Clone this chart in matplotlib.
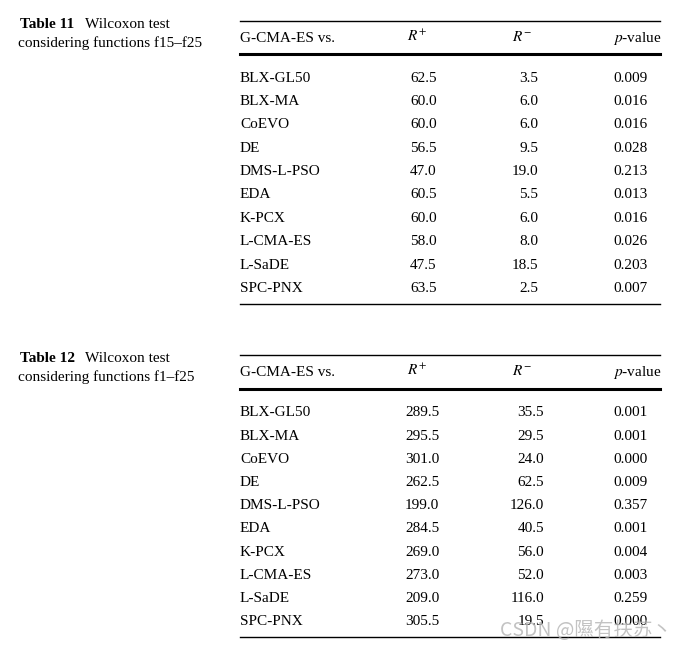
import matplotlib
matplotlib.use("Agg")
from matplotlib import pyplot as plt
from matplotlib.lines import Line2D

W, H = 682, 649

algorithms = ["BLX-GL50", "BLX-MA", "CoEVO", "DE", "DMS-L-PSO", "EDA",
              "K-PCX", "L-CMA-ES", "L-SaDE", "SPC-PNX"]

t11_rplus = ["62.5", "60.0", "60.0", "56.5", "47.0", "60.5", "60.0", "58.0", "47.5", "63.5"]
t11_rminus = ["3.5", "6.0", "6.0", "9.5", "19.0", "5.5", "6.0", "8.0", "18.5", "2.5"]
t11_pvalue = ["0.009", "0.016", "0.016", "0.028", "0.213", "0.013", "0.016", "0.026", "0.203", "0.007"]

t12_rplus = ["289.5", "295.5", "301.0", "262.5", "199.0", "284.5", "269.0", "273.0", "209.0", "305.5"]
t12_rminus = ["35.5", "29.5", "24.0", "62.5", "126.0", "40.5", "56.0", "52.0", "116.0", "19.5"]
t12_pvalue = ["0.001", "0.001", "0.000", "0.009", "0.357", "0.001", "0.004", "0.003", "0.259", "0.000"]

plt.rcParams['font.family'] = ['Liberation Serif', 'DejaVu Serif']
plt.rcParams['mathtext.fontset'] = 'stix'

fig = plt.figure(figsize=(W / 100, H / 100), dpi=100)
FS = 11


def px(x, y):
    # pixel coords (from top-left) to figure fraction
    return x / W, 1 - y / H


def hline(y, x0, x1, lw):
    a, b = px(x0, y)
    c, d = px(x1, y)
    fig.add_artist(Line2D([a, c], [b, d], color="black", lw=lw, transform=fig.transFigure))


def text(x, y, s, ha="left", **kw):
    # y is the visual middle of capital letters
    fig.text(*px(x, y + 5), s, ha=ha, va="baseline", fontsize=FS, **kw)


def draw_table(top, thick, bottom, name, subtitle, rplus, rminus, pvalue, rp_x, rm_x):
    # caption on the left
    text(20, top + 2, name, fontweight="bold")
    text(85, top + 2, "Wilcoxon test")
    text(18, top + 21, subtitle)
    # rules
    hline(top, 240, 660, 1.0)
    hline(thick, 240, 660, 2.2)
    hline(bottom, 240, 660, 1.0)
    text(240, top + 16, "G-CMA-ES vs.")
    text(407, top + 15, r"$R^{+}$")
    text(512, top + 15, r"$R^{-}$")
    text(613, top + 16, r"$p$-value")
    y0 = thick + 22.5
    step = (bottom - 17 - y0) / 9
    for i, alg in enumerate(algorithms):
        y = y0 + i * step
        text(240, y, alg)
        text(rp_x, y, rplus[i])
        text(rm_x, y, rminus[i], ha="right")
        text(613, y, pvalue[i])


draw_table(21, 54, 304, "Table 11", "considering functions f15\u2013f25",
           t11_rplus, t11_rminus, t11_pvalue, 410, 538)
draw_table(355, 389, 637, "Table 12", "considering functions f1\u2013f25",
           t12_rplus, t12_rminus, t12_pvalue, 405, 544)

fig.text(*px(500, 631), "CSDN @\u96b0\u6709\u6276\u82cf\u4e36", ha="left", va="center",
         fontsize=14, color="#b4b4b4", alpha=0.8,
         family=["Noto Sans CJK SC", "DejaVu Sans"])

fig.savefig("out.png", dpi=100)
